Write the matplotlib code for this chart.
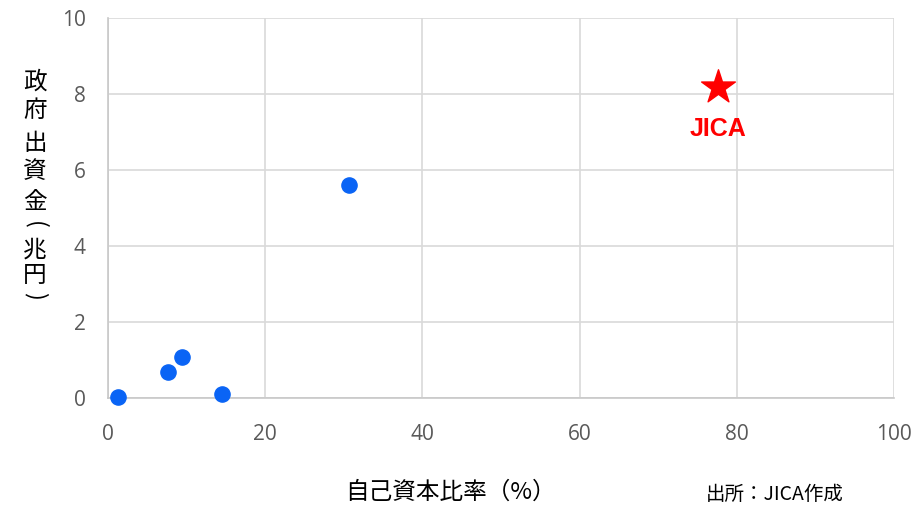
import matplotlib
matplotlib.use("Agg")
import matplotlib.pyplot as plt

plt.rcParams['font.family'] = ['Noto Sans CJK JP', 'DejaVu Sans']

# other agencies
equity_ratio = [1.3, 7.6, 9.4, 14.5, 30.7]
gov_funding = [0.03, 0.68, 1.08, 0.1, 5.6]

# JICA
jica_ratio = [77.6]
jica_funding = [8.18]
jica_label = "JICA"

x_ticks = [0, 20, 40, 60, 80, 100]
y_ticks = [0, 2, 4, 6, 8, 10]

y_label_chars = ["政", "府", "出", "資", "金", "(", "兆", "円", ")"]

fig = plt.figure(figsize=(9.2, 5.07), dpi=100)
ax = fig.add_axes([108 / 920, 1 - 398 / 507, (894 - 108) / 920, (398 - 18) / 507])

ax.scatter(equity_ratio, gov_funding, s=120, color="#0a64f5", zorder=3, clip_on=False)
ax.scatter(jica_ratio, jica_funding, s=650, marker="*", color="#ff0000", zorder=3)
ax.annotate(jica_label, (jica_ratio[0], jica_funding[0]), xytext=(0, -30),
            textcoords="offset points", ha="center", va="center",
            color="#ff0000", fontsize=18, fontweight="bold", family="Liberation Sans")

ax.set_xlim(0, 100)
ax.set_ylim(0, 10)
ax.set_xticks(x_ticks)
ax.set_yticks(y_ticks)
ax.grid(True, color="#d9d9d9", linewidth=1.2)
ax.set_axisbelow(True)
for side in ["top", "right"]:
    ax.spines[side].set_visible(False)
for side in ["left", "bottom"]:
    ax.spines[side].set_color("#c8c8c8")
    ax.spines[side].set_linewidth(1.2)
ax.tick_params(length=0, labelsize=15, labelcolor="#595959")
ax.tick_params(axis="x", pad=19)
ax.tick_params(axis="y", pad=16)
for lbl in ax.get_xticklabels() + ax.get_yticklabels():
    lbl.set_family("Open Sans")

# x label sits left of centre in the original
fig.text(450 / 920, 1 - 492 / 507, "自己資本比率（%）", ha="center", va="center", fontsize=17)

# vertical y label, parentheses turned sideways
y_pos = [82, 110, 143, 172, 203, 225, 250, 275, 296]
for ch, yp in zip(y_label_chars, y_pos):
    rot = -90 if ch in "()" else 0
    fig.text(35 / 920, 1 - yp / 507, ch, ha="center", va="center",
             fontsize=17, rotation=rot, rotation_mode="anchor")

fig.text(706 / 920, 1 - 494 / 507, "出所：JICA作成", fontsize=14, va="center")

fig.savefig("out.png", dpi=100)
